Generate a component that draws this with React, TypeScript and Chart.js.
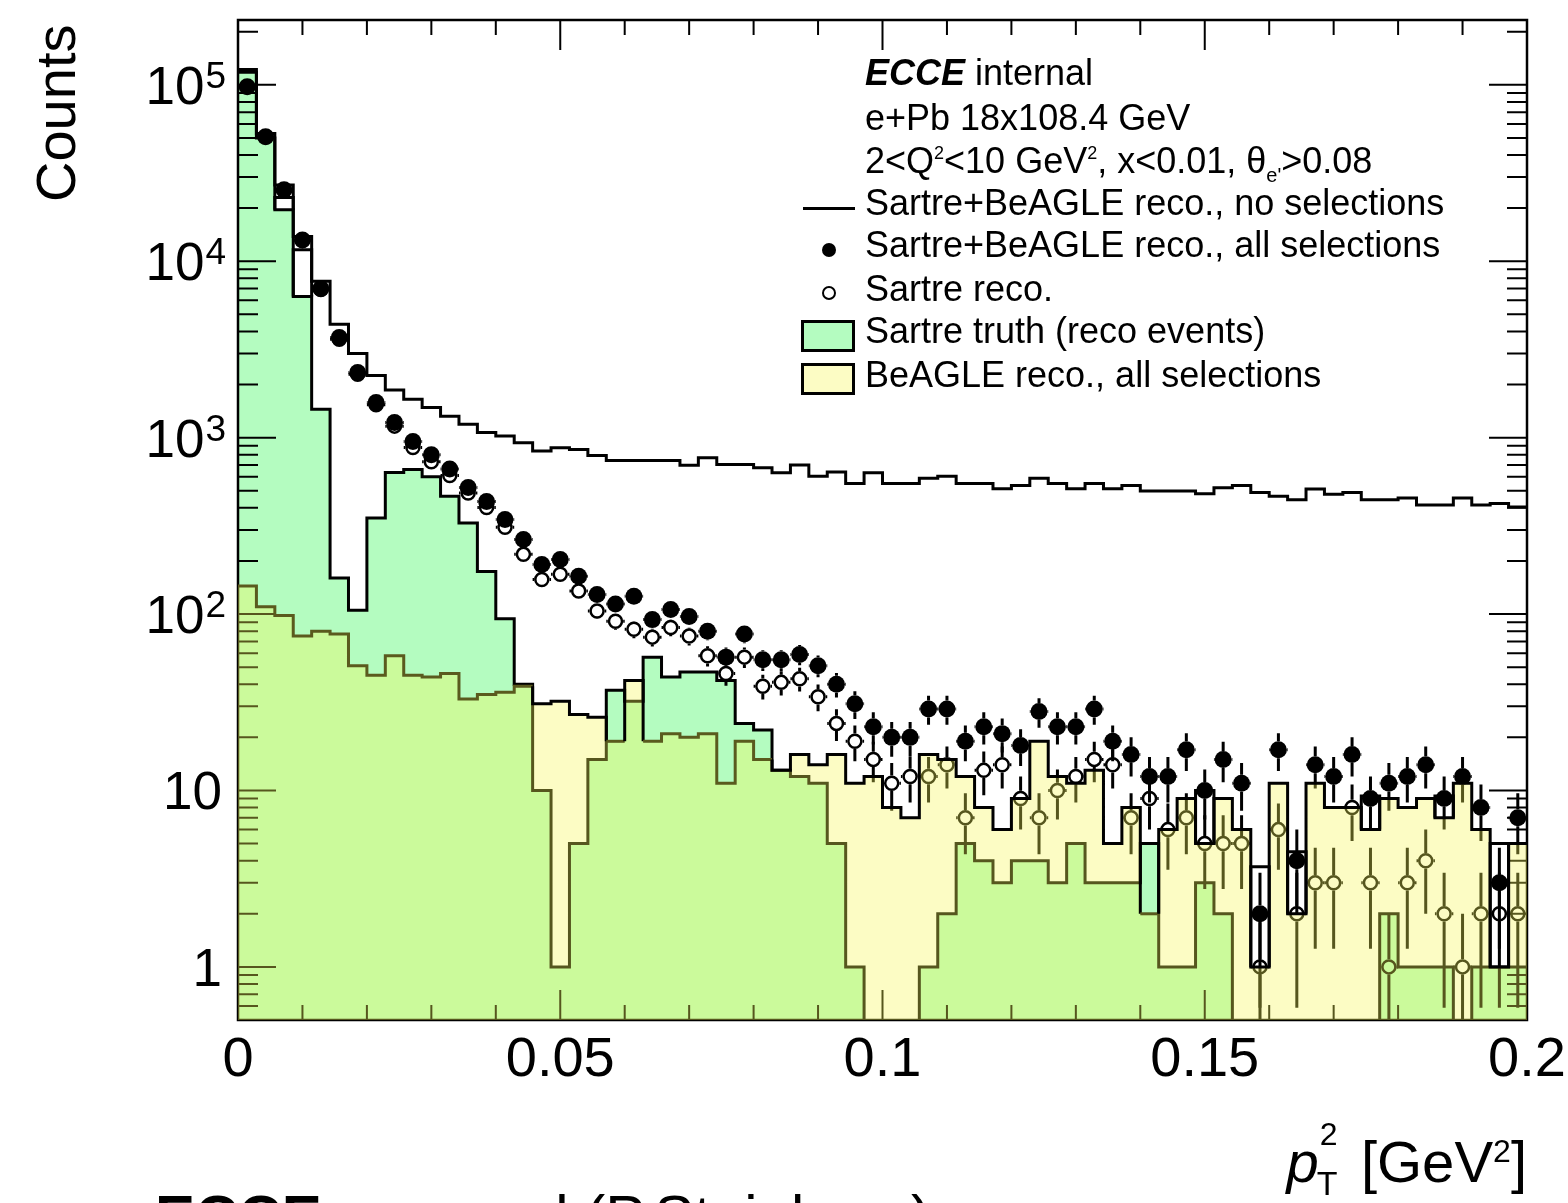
import React, { useEffect, useRef } from "react";
import { Chart, registerables } from "chart.js";

Chart.register(...registerables);

const FONT = '"Liberation Sans", Arial, Helvetica, sans-serif';
const W = 1568;
const H = 1203;

// Plot frame inside the canvas (left, top, right, bottom)
const FRAME = { left: 238, top: 20, right: 1527, bottom: 1020 };

// Binning: 70 bins over 0 < pT^2 < 0.2 GeV^2
const X_MIN = 0;
const X_MAX = 0.2;
const N_BINS = 70;
const BIN_W = (X_MAX - X_MIN) / N_BINS;
const Y_MIN = 0.5;
const Y_MAX = 2.33e5;
const FLOOR = 1e-3; // empty bins sit below the visible range

const xTickValues = [0, 0.05, 0.1, 0.15, 0.2];
const xTickLabels = ["0", "0.05", "0.1", "0.15", "0.2"];
const yTickExponents = [0, 1, 2, 3, 4, 5];

// Sartre+BeAGLE reco., no selections
const noSelection = [
  122000, 53000, 27000, 13800, 7700, 4400, 3000, 2250, 1860, 1650,
  1480, 1320, 1190, 1070, 1020, 935, 840, 877, 857, 793,
  743, 743, 743, 743, 697, 770, 705, 705, 676, 633,
  699, 605, 638, 550, 633, 550, 550, 588, 605, 550,
  550, 514, 536, 588, 550, 514, 550, 514, 536, 498,
  498, 498, 481, 520, 536, 489, 466, 444, 512, 477,
  489, 444, 444, 455, 415, 415, 455, 415, 424, 405,
];

// Sartre+BeAGLE reco., all selections (filled markers)
const allSelections = [
  97500, 50800, 25400, 13200, 7000, 3690, 2340, 1580, 1220, 950,
  800, 665, 522, 435, 344, 265, 191, 204, 164, 129,
  114, 126, 93, 106, 97, 80, 57, 77, 55, 55,
  59, 51, 40, 31, 23, 20, 20, 29, 29, 19,
  23, 21, 18, 28, 23, 23, 29, 19, 16, 12,
  12, 17, 10, 15, 11, 2, 17, 4, 14, 12,
  16, 9, 11, 12, 14, 9, 12, 8, 3, 7,
];

// Sartre reco. (open markers)
const sartreReco = [
  97360, 50690, 25300, 13125, 6920, 3613, 2289, 1535, 1162, 880,
  730, 610, 485, 402, 310, 218, 157, 168, 135, 104,
  91, 82, 74, 84, 75, 58, 46, 57, 39, 41,
  43, 34, 24, 19, 15, 11, 12, 12, 14, 7,
  13, 14, 9, 7, 10, 12, 15, 14, 7, 9,
  6, 7, 5, 5, 5, 1, 6, 2, 3, 3,
  8, 3, 1, 3, 4, 2, 1, 2, 2, 2,
];

// Sartre truth (reco events)
const sartreTruth = [
  118000, 50000, 19600, 6300, 1450, 160, 105, 350, 635, 660,
  600, 465, 328, 174, 94, 40, 10, 1, 5, 15,
  37, 32, 57, 44, 47, 47, 42, 24, 22, 13,
  12, 11, 5, 1, 0, 0, 0, 1, 2, 5,
  4, 3, 4, 4, 3, 5, 3, 3, 3, 5,
  1, 1, 3, 2, 0, 0, 0, 0, 0, 0,
  0, 0, 2, 1, 1, 1, 0, 1, 1, 1,
];

// BeAGLE reco., all selections
const beagleReco = [
  144, 110, 98, 75, 80, 77, 51, 45, 58, 45,
  44, 46, 33, 35, 36, 39, 31, 32, 27, 26,
  19, 42, 19, 21, 20, 21, 11, 19, 15, 13,
  16, 14, 16, 11, 12, 8, 7, 16, 15, 12,
  8, 6, 9, 19, 12, 11, 13, 5, 8, 2,
  6, 9, 5, 9, 6, 1, 11, 2, 11, 8,
  8, 6, 9, 8, 9, 7, 11, 6, 1, 5,
];

// Open boxes standing on top of the filled histograms: bin index and upper edge
const boxBins = [2, 3, 52, 55, 57, 61, 65, 68];
const boxTops = [23000, 11600, 10, 3.7, 4.5, 9.3, 9.3, 5];

const BLACK = "#000000";
const OLIVE = "#5a5a1e";
const MINT = "rgb(180,252,192)";
const YELLOW_WASH = "rgba(246,246,86,0.35)";
const YELLOW_SWATCH = "rgb(252,252,196)";

const OPEN_R = 6.5;
const FILLED_R = 8.5;

const edge = (i: number) => X_MIN + i * BIN_W;
const center = (i: number) => X_MIN + (i + 0.5) * BIN_W;

function steps(values: number[]) {
  const pts: { x: number; y: number }[] = [];
  values.forEach((v, i) => {
    const y = v > 0 ? v : FLOOR;
    pts.push({ x: edge(i), y }, { x: edge(i + 1), y });
  });
  return pts;
}

function markers(values: number[]) {
  return values.map((v, i) => ({ x: center(i), y: v > 0 ? v : null }));
}

function boxOutline() {
  const pts: { x: number; y: number | null }[] = [];
  boxBins.forEach((b, k) => {
    const base = Math.max(sartreTruth[b], beagleReco[b]);
    pts.push(
      { x: edge(b), y: base },
      { x: edge(b), y: boxTops[k] },
      { x: edge(b + 1), y: boxTops[k] },
      { x: edge(b + 1), y: base },
      { x: edge(b + 1), y: null }
    );
  });
  return pts;
}

function drawErrorBars(chart: any, values: number[], gap: number) {
  const { ctx, chartArea: a } = chart;
  const xs = chart.scales.x;
  const ys = chart.scales.y;
  values.forEach((v, i) => {
    if (!(v > 0)) return;
    const e = Math.sqrt(v);
    const px = xs.getPixelForValue(center(i));
    const py = ys.getPixelForValue(v);
    const hi = ys.getPixelForValue(v + e);
    const lo = v - e > Y_MIN * 0.01 ? ys.getPixelForValue(v - e) : a.bottom + 10;
    ctx.beginPath();
    if (hi < py - gap) {
      ctx.moveTo(px, py - gap);
      ctx.lineTo(px, hi);
    }
    if (lo > py + gap) {
      ctx.moveTo(px, py + gap);
      ctx.lineTo(px, lo);
    }
    const xl = xs.getPixelForValue(edge(i));
    const xr = xs.getPixelForValue(edge(i + 1));
    if (px - gap > xl) {
      ctx.moveTo(xl, py);
      ctx.lineTo(px - gap, py);
      ctx.moveTo(px + gap, py);
      ctx.lineTo(xr, py);
    }
    ctx.stroke();
  });
}

function drawFrameAndTicks(chart: any) {
  const { ctx, chartArea: a } = chart;
  const xs = chart.scales.x;
  const ys = chart.scales.y;
  ctx.save();
  ctx.strokeStyle = BLACK;
  ctx.lineWidth = 2;
  ctx.beginPath();
  for (let k = 0; k <= 20; k++) {
    const px = xs.getPixelForValue(k * 0.01);
    const len = k % 5 === 0 ? 30 : 15;
    ctx.moveTo(px, a.bottom);
    ctx.lineTo(px, a.bottom - len);
    ctx.moveTo(px, a.top);
    ctx.lineTo(px, a.top + len);
  }
  for (let d = -1; d <= 5; d++) {
    for (let m = 1; m <= 9; m++) {
      const v = m * Math.pow(10, d);
      if (v < Y_MIN || v > Y_MAX) continue;
      const py = ys.getPixelForValue(v);
      const len = m === 1 ? 38 : 20;
      ctx.moveTo(a.left, py);
      ctx.lineTo(a.left + len, py);
      ctx.moveTo(a.right, py);
      ctx.lineTo(a.right - len, py);
    }
  }
  ctx.stroke();
  ctx.lineWidth = 2.5;
  ctx.strokeRect(a.left, a.top, a.right - a.left, a.bottom - a.top);
  ctx.restore();
}

const decorations = {
  id: "decorations",
  beforeDatasetDraw(chart: any, args: any) {
    // after the Sartre truth fill, before the markers and the BeAGLE wash
    if (args.index !== 1) return;
    drawFrameAndTicks(chart);
    const { ctx, chartArea: a } = chart;
    ctx.save();
    ctx.beginPath();
    ctx.rect(a.left, a.top, a.right - a.left, a.bottom - a.top);
    ctx.clip();
    ctx.strokeStyle = BLACK;
    ctx.lineWidth = 3;
    drawErrorBars(chart, sartreReco, OPEN_R + 1.2);
    drawErrorBars(chart, allSelections, FILLED_R);
    ctx.restore();
  },
  afterDraw(chart: any) {
    const { ctx, chartArea: a } = chart;
    const xs = chart.scales.x;
    const ys = chart.scales.y;
    ctx.save();
    ctx.fillStyle = BLACK;
    ctx.textBaseline = "alphabetic";
    ctx.textAlign = "center";
    ctx.font = `56px ${FONT}`;
    xTickValues.forEach((v, k) => {
      ctx.fillText(xTickLabels[k], xs.getPixelForValue(v), a.bottom + 56);
    });
    ctx.textAlign = "right";
    yTickExponents.forEach((d) => {
      const py = ys.getPixelForValue(Math.pow(10, d));
      if (d <= 1) {
        ctx.font = `53px ${FONT}`;
        ctx.fillText(d === 0 ? "1" : "10", a.left - 16, py + 19);
      } else {
        ctx.font = `37px ${FONT}`;
        const exp = String(d);
        const w = ctx.measureText(exp).width;
        ctx.fillText(exp, a.left - 12, py + 3);
        ctx.font = `53px ${FONT}`;
        ctx.fillText("10", a.left - 13 - w, py + 19);
      }
    });
    ctx.restore();
  },
};

function buildConfig(): any {
  // outline of the BeAGLE histogram turns olive where it runs inside the Sartre fill
  const bSegmentColor = (c: any) => {
    const i0 = Math.floor(c.p0DataIndex / 2);
    const i1 = Math.floor(c.p1DataIndex / 2);
    const under =
      sartreTruth[i0] > beagleReco[i0] && sartreTruth[i1] > beagleReco[i1];
    return under ? OLIVE : BLACK;
  };
  return {
    type: "line",
    data: {
      datasets: [
        {
          label: "Sartre truth (reco events)",
          data: steps(sartreTruth),
          borderColor: BLACK,
          borderWidth: 3,
          backgroundColor: MINT,
          fill: "start",
          pointRadius: 0,
          order: 100,
        },
        {
          label: "Sartre reco.",
          data: markers(sartreReco),
          showLine: false,
          pointStyle: "circle",
          pointRadius: OPEN_R,
          pointBorderWidth: 2.5,
          pointBorderColor: BLACK,
          pointBackgroundColor: "rgba(0,0,0,0)",
          order: 95,
        },
        {
          label: "Sartre+BeAGLE reco., all selections",
          data: markers(allSelections),
          showLine: false,
          pointStyle: "circle",
          pointRadius: FILLED_R,
          pointBorderWidth: 0,
          pointBackgroundColor: BLACK,
          order: 94,
        },
        {
          label: "BeAGLE reco., all selections (fill)",
          data: steps(beagleReco),
          borderWidth: 0,
          borderColor: "rgba(0,0,0,0)",
          backgroundColor: YELLOW_WASH,
          fill: "start",
          pointRadius: 0,
          order: 80,
        },
        {
          label: "BeAGLE reco., all selections",
          data: steps(beagleReco),
          borderColor: BLACK,
          borderWidth: 3,
          segment: { borderColor: bSegmentColor },
          fill: false,
          pointRadius: 0,
          order: 79,
        },
        {
          label: "boxes",
          data: boxOutline(),
          borderColor: BLACK,
          borderWidth: 3,
          fill: false,
          spanGaps: false,
          pointRadius: 0,
          order: 60,
        },
        {
          label: "Sartre+BeAGLE reco., no selections",
          data: steps(noSelection),
          borderColor: BLACK,
          borderWidth: 3,
          fill: false,
          pointRadius: 0,
          order: 50,
        },
      ],
    },
    options: {
      animation: false,
      responsive: false,
      devicePixelRatio: 1,
      events: [],
      layout: {
        padding: {
          left: FRAME.left,
          top: FRAME.top,
          right: W - FRAME.right,
          bottom: H - FRAME.bottom,
        },
      },
      elements: {
        line: { tension: 0, borderJoinStyle: "miter", borderCapStyle: "butt" },
      },
      scales: {
        x: { type: "linear", min: X_MIN, max: X_MAX, display: false },
        y: { type: "logarithmic", min: Y_MIN, max: Y_MAX, display: false },
      },
      plugins: {
        legend: { display: false },
        tooltip: { enabled: false },
      },
    },
    plugins: [decorations],
  };
}

const sup = (t: string, size: number, rise: number) => (
  <span style={{ fontSize: size, position: "relative", top: -rise, lineHeight: 0 }}>{t}</span>
);
const sub = (t: string, size: number, drop: number) => (
  <span style={{ fontSize: size, position: "relative", top: drop, lineHeight: 0 }}>{t}</span>
);

function TextLine(props: { top: number; left?: number; size?: number; children: any }) {
  const size = props.size ?? 36;
  return (
    <div
      style={{
        position: "absolute",
        left: props.left ?? 865,
        top: props.top,
        fontSize: size,
        lineHeight: `${size}px`,
        whiteSpace: "nowrap",
      }}
    >
      {props.children}
    </div>
  );
}

export default function App() {
  const canvasRef = useRef<HTMLCanvasElement | null>(null);

  useEffect(() => {
    const canvas = canvasRef.current;
    if (!canvas) return;
    const chart = new Chart(canvas, buildConfig());
    return () => chart.destroy();
  }, []);

  return (
    <div
      style={{
        position: "absolute",
        left: 0,
        top: 0,
        width: W,
        height: H,
        overflow: "hidden",
        background: "#ffffff",
        fontFamily: FONT,
        color: BLACK,
      }}
    >
      <canvas
        ref={canvasRef}
        width={W}
        height={H}
        style={{ position: "absolute", left: 0, top: 0, width: W, height: H }}
      />

      {/* y-axis title */}
      <div
        style={{
          position: "absolute",
          left: 28,
          top: 202,
          fontSize: 56,
          lineHeight: "56px",
          whiteSpace: "nowrap",
          transform: "rotate(-90deg)",
          transformOrigin: "left top",
        }}
      >
        Counts
      </div>

      {/* x-axis title */}
      <div
        style={{
          position: "absolute",
          right: W - FRAME.right,
          top: 1124,
          fontSize: 58,
          lineHeight: "58px",
          whiteSpace: "nowrap",
        }}
      >
        <span style={{ fontStyle: "italic" }}>p</span>
        <span style={{ position: "relative", display: "inline-block", width: 26, height: 58 }}>
          <span style={{ position: "absolute", left: 1, top: -6, fontSize: 32, lineHeight: "32px" }}>2</span>
          <span style={{ position: "absolute", left: -2, top: 42, fontSize: 34, lineHeight: "34px" }}>T</span>
        </span>
        {" [GeV"}
        {sup("2", 32, 20)}
        {"]"}
      </div>

      {/* header text */}
      <TextLine top={55}>
        <span style={{ fontWeight: "bold", fontStyle: "italic" }}>ECCE</span>
        {" internal"}
      </TextLine>
      <TextLine top={100}>e+Pb 18x108.4 GeV</TextLine>
      <TextLine top={143}>
        {"2<Q"}
        {sup("2", 18, 14)}
        {"<10 GeV"}
        {sup("2", 18, 14)}
        {", x<0.01, θ"}
        {sub("e'", 20, 9)}
        {">0.08"}
      </TextLine>

      {/* legend */}
      <div style={{ position: "absolute", left: 803, top: 207, width: 52, height: 3, background: BLACK }} />
      <TextLine top={185}>Sartre+BeAGLE reco., no selections</TextLine>
      <div
        style={{
          position: "absolute",
          left: 822,
          top: 243,
          width: 14,
          height: 14,
          borderRadius: "50%",
          background: BLACK,
        }}
      />
      <TextLine top={227}>Sartre+BeAGLE reco., all selections</TextLine>
      <div
        style={{
          position: "absolute",
          left: 822,
          top: 286,
          width: 14,
          height: 14,
          borderRadius: "50%",
          border: "2px solid #000",
          boxSizing: "border-box",
        }}
      />
      <TextLine top={271}>Sartre reco.</TextLine>
      <div
        style={{
          position: "absolute",
          left: 801,
          top: 320,
          width: 54,
          height: 32,
          border: "3px solid #000",
          boxSizing: "border-box",
          background: MINT,
        }}
      />
      <TextLine top={313}>Sartre truth (reco events)</TextLine>
      <div
        style={{
          position: "absolute",
          left: 801,
          top: 363,
          width: 54,
          height: 32,
          border: "3px solid #000",
          boxSizing: "border-box",
          background: YELLOW_SWATCH,
        }}
      />
      <TextLine top={357}>BeAGLE reco., all selections</TextLine>

      {/* caption below the figure, partly outside the page */}
      <TextLine left={155} top={1187} size={60}>
        <span style={{ fontWeight: "bold" }}>ECCE</span>
        {" proposal (P.Steinberg)"}
      </TextLine>
    </div>
  );
}
